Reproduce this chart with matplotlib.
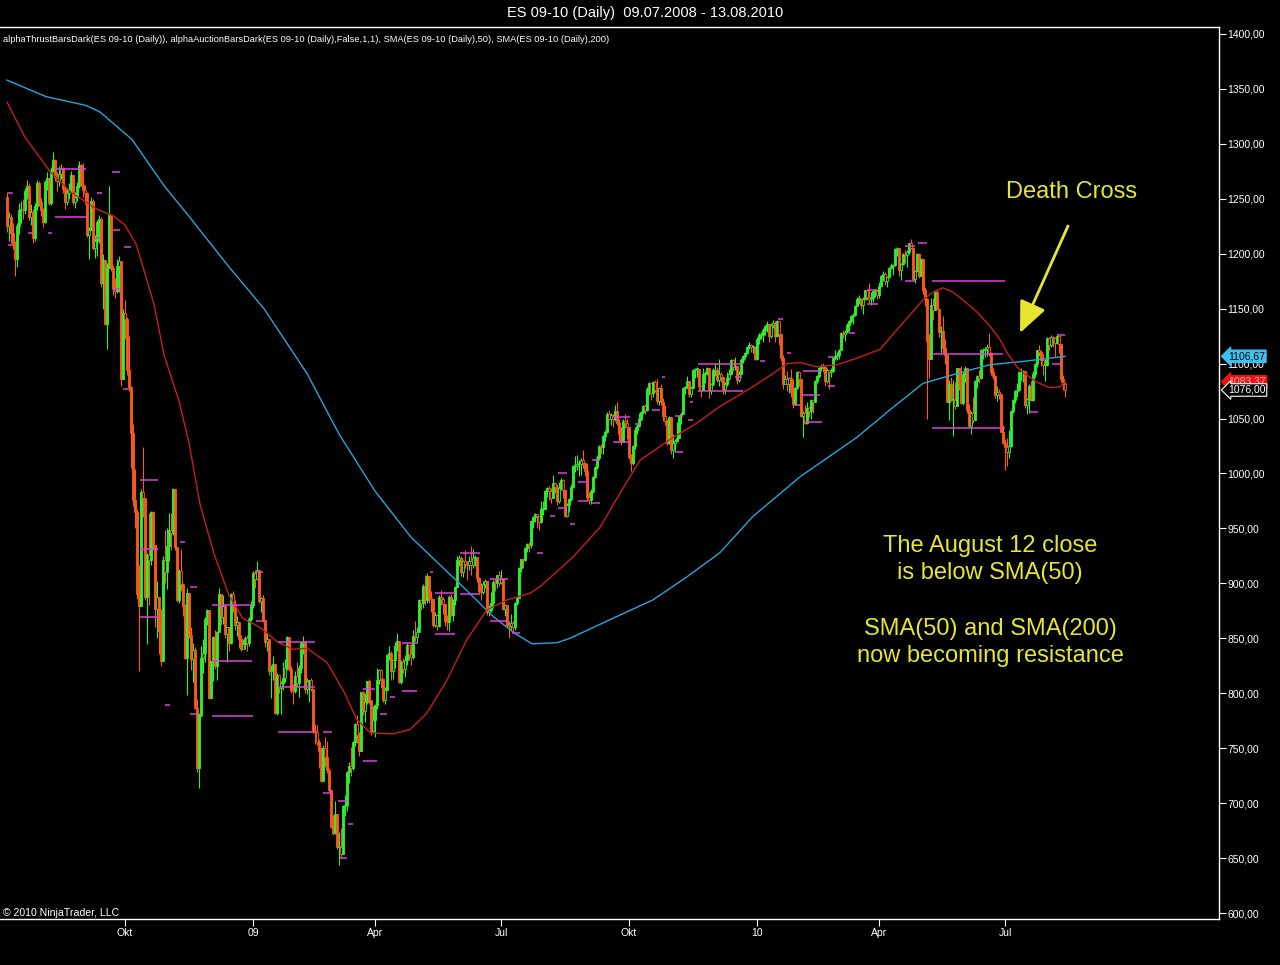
import numpy as np
import pandas as pd
import matplotlib
matplotlib.use('Agg')
import matplotlib.pyplot as plt
from matplotlib.ticker import FuncFormatter

plt.rcParams['font.family'] = ['Liberation Sans', 'DejaVu Sans']

W, H = 1280, 965

# ES 09-10 (Daily), back adjusted, 09.07.2008 - 13.08.2010
first_open = 1252
close = [
    # 2008 Jul
    1225, 1233, 1219, 1208, 1195, 1225, 1240, 1241, 1240, 1257, 1262, 1233, 1238, 1214, 1243, 1264, 1247,
    # Aug
    1240, 1229, 1265, 1269, 1246, 1276, 1285, 1270, 1266, 1273, 1278, 1259, 1247, 1255, 1258, 1272, 1247, 1252, 1262, 1281, 1263,
    # Sep
    1258, 1255, 1217, 1222, 1248, 1205, 1212, 1229, 1232, 1173, 1194, 1136, 1187, 1235, 1187, 1168, 1166, 1189, 1193, 1086, 1146,
    # Oct
    1141, 1094, 1079, 1037, 976, 965, 890, 879, 983, 978, 888, 926, 921, 965, 935, 877, 888, 857, 829, 921, 910, 934, 949,
    # Nov
    946, 986, 933, 885, 911, 899, 879, 832, 891, 853, 831, 839, 787, 732, 780, 832, 837, 868, 876,
    # Dec
    796, 829, 851, 825, 856, 890, 869, 879, 854, 860, 846, 890, 881, 862, 865, 849, 840, 845, 850, 846, 868, 880,
    # 2009 Jan
    909, 904, 912, 884, 887, 867, 847, 849, 820, 821, 827, 782, 817, 805, 809, 814, 823, 851, 822, 803,
    # Feb
    802, 816, 809, 823, 846, 847, 804, 811, 812, 804, 766, 765, 756, 747, 720, 750, 742, 730, 712,
    # Mar
    678, 673, 690, 660, 660, 654, 697, 698, 728, 734, 732, 756, 772, 762, 747, 801, 784, 792, 811, 794, 766, 776,
    # Apr
    789, 812, 821, 813, 794, 803, 835, 837, 820, 830, 843, 848, 810, 828, 822, 830, 844, 836, 833, 852, 851,
    # May
    856, 885, 882, 898, 885, 907, 887, 886, 862, 871, 861, 888, 886, 881, 866, 865, 888, 871, 885, 897,
    # Jun
    921, 923, 910, 920, 918, 917, 920, 917, 923, 924, 905, 893, 892, 899, 902, 874, 876, 882, 901, 900, 908, 900,
    # Jul
    904, 877, 880, 862, 861, 864, 860, 882, 887, 914, 922, 921, 932, 936, 935, 957, 960, 963, 961, 956, 968, 968,
    # Aug
    984, 987, 984, 978, 991, 988, 975, 987, 994, 985, 961, 971, 977, 988, 1007, 1007, 1009, 1009, 1012, 1010, 1002,
    # Sep
    979, 976, 984, 997, 1006, 1014, 1025, 1024, 1034, 1038, 1054, 1050, 1053, 1050, 1057, 1046, 1036, 1029, 1048, 1046, 1042,
    # Oct
    1015, 1010, 1025, 1040, 1043, 1050, 1056, 1061, 1058, 1077, 1082, 1073, 1083, 1076, 1066, 1078, 1065, 1052, 1048, 1028, 1051, 1021,
    # Nov
    1028, 1030, 1032, 1052, 1054, 1078, 1078, 1084, 1072, 1078, 1094, 1095, 1095, 1080, 1076, 1091, 1091, 1096, 1076, 1081,
    # Dec
    1094, 1094, 1085, 1091, 1088, 1077, 1081, 1087, 1091, 1103, 1097, 1098, 1085, 1091, 1103, 1107, 1110, 1115, 1117, 1115, 1115, 1104,
    # 2010 Jan
    1122, 1126, 1126, 1131, 1134, 1136, 1125, 1135, 1137, 1125, 1139, 1127, 1105, 1081, 1086, 1081, 1087, 1074, 1063,
    # Feb
    1078, 1092, 1086, 1052, 1055, 1046, 1060, 1057, 1067, 1065, 1084, 1089, 1096, 1098, 1097, 1084, 1094, 1092, 1093,
    # Mar
    1105, 1107, 1108, 1112, 1128, 1127, 1129, 1135, 1139, 1143, 1144, 1152, 1159, 1159, 1153, 1159, 1167, 1161, 1159, 1160, 1166, 1166, 1162,
    # Apr
    1171, 1180, 1182, 1175, 1179, 1187, 1189, 1190, 1204, 1205, 1185, 1191, 1200, 1199, 1202, 1210, 1205, 1177, 1184, 1200, 1180,
    # May
    1195, 1167, 1159, 1121, 1104, 1153, 1149, 1165, 1150, 1129, 1130, 1114, 1108, 1065, 1081, 1067, 1067, 1061, 1096, 1082,
    # Jun
    1064, 1091, 1096, 1058, 1043, 1055, 1049, 1084, 1089, 1087, 1112, 1112, 1113, 1115, 1110, 1092, 1089, 1071, 1074, 1072, 1038, 1028,
    # Jul
    1024, 1020, 1025, 1057, 1067, 1075, 1076, 1092, 1092, 1093, 1062, 1068, 1080, 1067, 1091, 1100, 1112, 1111, 1103, 1099, 1099,
    # Aug
    1123, 1117, 1124, 1123, 1119, 1125, 1118, 1086, 1081, 1076,
]
high = [
    1256, 1238, 1236, 1228, 1212, 1228, 1246, 1248, 1250, 1260, 1267, 1264, 1245, 1241, 1246, 1267, 1266,
    1251, 1242, 1267, 1274, 1267, 1279, 1293, 1286, 1274, 1280, 1282, 1279, 1262, 1260, 1264, 1275, 1272, 1256, 1265, 1284, 1282,
    1283, 1263, 1256, 1224, 1252, 1250, 1217, 1231, 1235, 1233, 1200, 1194, 1192, 1262, 1235, 1190, 1178, 1195, 1198, 1193, 1150,
    1158, 1142, 1125, 1080, 1045, 1004, 968, 917, 986, 1024, 978, 928, 964, 966, 966, 935, 902, 888, 877, 925, 949, 950, 964,
    964, 987, 985, 933, 913, 931, 900, 881, 896, 891, 860, 846, 842, 795, 782, 843, 849, 869, 877,
    876, 829, 852, 858, 857, 896, 890, 889, 880, 860, 860, 891, 893, 885, 870, 866, 853, 849, 852, 853, 869, 884,
    911, 912, 920, 910, 888, 889, 867, 854, 848, 826, 834, 826, 818, 817, 811, 828, 831, 852, 850, 825,
    808, 820, 828, 826, 848, 852, 847, 814, 812, 814, 803, 772, 771, 758, 751, 753, 760, 757, 732,
    712, 689, 702, 690, 674, 677, 698, 707, 729, 737, 751, 757, 773, 780, 765, 801, 802, 800, 811, 813, 794, 788,
    790, 823, 822, 822, 813, 806, 836, 843, 838, 830, 847, 855, 848, 830, 832, 835, 847, 844, 845, 858, 866,
    860, 886, 886, 899, 908, 909, 906, 893, 886, 874, 872, 889, 894, 888, 880, 871, 889, 890, 886, 898,
    925, 926, 925, 921, 930, 920, 925, 934, 931, 926, 924, 906, 900, 902, 904, 902, 880, 892, 903, 904, 908, 911,
    912, 904, 881, 880, 866, 872, 866, 883, 888, 915, 922, 923, 933, 937, 938, 957, 961, 964, 963, 961, 975, 975,
    985, 988, 989, 987, 999, 992, 990, 992, 996, 995, 985, 973, 978, 990, 1008, 1016, 1017, 1012, 1014, 1021, 1010,
    1010, 983, 986, 998, 1007, 1017, 1026, 1027, 1035, 1040, 1056, 1058, 1055, 1054, 1062, 1065, 1050, 1042, 1050, 1054, 1050,
    1042, 1018, 1026, 1042, 1045, 1055, 1057, 1062, 1063, 1079, 1083, 1082, 1084, 1085, 1086, 1079, 1081, 1069, 1062, 1050, 1052, 1051,
    1036, 1031, 1047, 1053, 1056, 1079, 1080, 1089, 1084, 1080, 1095, 1096, 1097, 1094, 1080, 1096, 1093, 1097, 1096, 1082,
    1096, 1101, 1097, 1104, 1092, 1088, 1083, 1092, 1095, 1104, 1104, 1106, 1098, 1093, 1105, 1108, 1111, 1116, 1120, 1118, 1117, 1116,
    1124, 1128, 1129, 1132, 1135, 1139, 1136, 1137, 1140, 1139, 1140, 1139, 1127, 1108, 1090, 1093, 1088, 1095, 1086,
    1079, 1093, 1093, 1086, 1057, 1062, 1065, 1061, 1068, 1067, 1085, 1090, 1097, 1100, 1101, 1098, 1096, 1094, 1096,
    1106, 1112, 1111, 1113, 1129, 1131, 1131, 1137, 1140, 1144, 1146, 1153, 1161, 1162, 1160, 1161, 1167, 1167, 1173, 1165, 1167, 1168, 1168,
    1174, 1181, 1184, 1183, 1180, 1188, 1192, 1191, 1205, 1206, 1205, 1192, 1201, 1203, 1203, 1210, 1213, 1206, 1185, 1201, 1201,
    1196, 1195, 1170, 1160, 1127, 1160, 1160, 1166, 1167, 1150, 1134, 1143, 1122, 1099, 1085, 1088, 1085, 1083, 1096, 1096,
    1098, 1092, 1098, 1096, 1063, 1057, 1070, 1085, 1090, 1094, 1113, 1114, 1115, 1118, 1128, 1111, 1096, 1090, 1080, 1077, 1072, 1044,
    1031, 1032, 1040, 1058, 1068, 1076, 1082, 1093, 1096, 1094, 1093, 1069, 1081, 1084, 1093, 1101, 1112, 1117, 1112, 1109, 1104,
    1124, 1124, 1126, 1125, 1124, 1127, 1125, 1116, 1090, 1083,
]
low = [
    1220, 1212, 1210, 1204, 1180, 1188, 1218, 1228, 1232, 1236, 1250, 1231, 1226, 1210, 1212, 1240, 1243,
    1234, 1224, 1228, 1258, 1244, 1244, 1274, 1266, 1257, 1262, 1268, 1255, 1241, 1244, 1250, 1256, 1244, 1242, 1248, 1260, 1262,
    1252, 1245, 1215, 1195, 1222, 1203, 1196, 1198, 1210, 1170, 1150, 1135, 1113, 1195, 1184, 1162, 1160, 1164, 1165, 1080, 1086,
    1122, 1090, 1075, 1005, 970, 950, 886, 820, 880, 960, 885, 845, 880, 917, 930, 860, 850, 836, 825, 830, 900, 895, 920,
    930, 944, 930, 883, 882, 893, 870, 831, 798, 850, 821, 810, 786, 728, 714, 778, 818, 828, 862,
    795, 797, 811, 822, 812, 856, 862, 863, 850, 828, 838, 845, 874, 858, 852, 841, 838, 840, 840, 838, 843, 866,
    878, 896, 903, 882, 874, 865, 842, 838, 817, 796, 812, 781, 780, 800, 781, 803, 810, 821, 820, 800,
    790, 800, 806, 797, 818, 836, 800, 799, 792, 802, 764, 754, 753, 732, 719, 721, 733, 727, 710,
    677, 671, 672, 658, 644, 651, 655, 688, 693, 718, 725, 730, 752, 755, 743, 750, 780, 774, 790, 790, 762, 764,
    760, 786, 808, 805, 792, 790, 803, 830, 812, 813, 823, 838, 809, 808, 818, 815, 826, 830, 826, 831, 848,
    846, 856, 876, 878, 880, 882, 882, 874, 860, 860, 858, 860, 880, 872, 861, 858, 857, 870, 866, 880,
    897, 916, 907, 906, 914, 903, 912, 908, 914, 916, 901, 890, 885, 890, 896, 871, 870, 874, 878, 893, 896, 898,
    899, 876, 870, 860, 850, 858, 856, 858, 880, 887, 910, 914, 920, 929, 929, 932, 950, 956, 950, 949, 955, 962,
    967, 979, 976, 973, 978, 982, 971, 973, 985, 978, 960, 960, 965, 975, 987, 1001, 1003, 998, 999, 1005, 998,
    976, 972, 972, 982, 996, 1004, 1012, 1018, 1018, 1030, 1037, 1049, 1044, 1042, 1048, 1044, 1030, 1026, 1029, 1041, 1031,
    1013, 1002, 1008, 1022, 1036, 1042, 1048, 1054, 1054, 1057, 1071, 1067, 1070, 1074, 1063, 1062, 1062, 1048, 1044, 1026, 1027, 1018,
    1014, 1020, 1029, 1032, 1045, 1054, 1072, 1078, 1070, 1070, 1078, 1087, 1088, 1075, 1070, 1076, 1082, 1090, 1069, 1072,
    1080, 1089, 1083, 1080, 1083, 1072, 1072, 1080, 1085, 1090, 1093, 1094, 1081, 1083, 1090, 1101, 1104, 1109, 1113, 1111, 1110, 1103,
    1103, 1118, 1122, 1120, 1126, 1129, 1120, 1123, 1132, 1120, 1124, 1117, 1102, 1077, 1081, 1075, 1073, 1070, 1060,
    1062, 1077, 1080, 1051, 1033, 1045, 1045, 1051, 1050, 1055, 1065, 1082, 1087, 1093, 1092, 1080, 1082, 1077, 1088,
    1092, 1103, 1103, 1104, 1112, 1123, 1121, 1128, 1130, 1137, 1136, 1143, 1152, 1154, 1150, 1145, 1158, 1158, 1155, 1153, 1156, 1161, 1159,
    1160, 1170, 1175, 1172, 1170, 1178, 1186, 1181, 1189, 1198, 1180, 1176, 1190, 1192, 1188, 1200, 1204, 1176, 1173, 1184, 1178,
    1180, 1163, 1152, 1050, 1087, 1104, 1140, 1149, 1150, 1124, 1110, 1110, 1100, 1065, 1049, 1066, 1034, 1059, 1062, 1076,
    1063, 1062, 1083, 1055, 1042, 1036, 1046, 1049, 1078, 1082, 1086, 1104, 1106, 1107, 1107, 1090, 1086, 1069, 1066, 1068, 1038, 1027,
    1003, 1007, 1014, 1024, 1055, 1064, 1070, 1075, 1084, 1083, 1060, 1054, 1055, 1066, 1066, 1088, 1097, 1107, 1098, 1090, 1084,
    1098, 1112, 1115, 1115, 1106, 1118, 1110, 1083, 1076, 1070,
]

holidays = ['2008-09-01', '2008-11-27', '2008-12-25', '2009-01-01', '2009-01-19', '2009-02-16',
            '2009-04-10', '2009-05-25', '2009-07-03', '2009-09-07', '2009-11-26', '2009-12-25',
            '2010-01-01', '2010-01-18', '2010-02-15', '2010-04-02', '2010-05-31', '2010-07-05']

month_ticks = ['2008-10-01', '2009-01-01', '2009-04-01', '2009-07-01',
               '2009-10-01', '2010-01-01', '2010-04-01', '2010-07-01']
month_labels = ['Okt', '09', 'Apr', 'Jul', 'Okt', '10', 'Apr', 'Jul']

# moving averages (bar index, price)
sma50_idx = [0, 9, 21.5, 32, 44.5, 53.5, 59, 64.5, 68, 73.5, 78.5, 86, 91, 96.5, 103.5, 111, 118, 126.5,
             135, 143, 150, 160, 168, 175, 181.5, 193, 201.5, 210, 220, 230, 240, 250, 261.5, 266.5,
             283, 296.5, 306.5, 316.5, 331.5, 345, 356.5, 373, 383, 390, 396.5, 405, 415, 425, 436.5,
             446.5, 458, 463, 468, 473, 478, 485, 491.5, 496.5, 500, 505, 508, 515, 521.5, 526.5, 529]
sma50_val = [1338, 1306, 1275, 1256, 1241, 1234, 1226, 1209, 1188, 1154, 1108, 1066, 1028, 972, 927, 889, 868, 860,
             847, 840, 841, 828, 803, 776, 764, 763, 767, 782, 812, 849, 876, 885, 891, 897,
             924, 951, 982, 1012, 1031, 1046, 1061, 1079, 1091, 1100, 1101, 1097, 1099, 1105, 1113,
             1134, 1158, 1165, 1169, 1165, 1158, 1147, 1134, 1122, 1110, 1097, 1092, 1083, 1078, 1079, 1083.37]
sma200_idx = [0, 19.5, 39.5, 46.5, 62.5, 78.5, 91, 111, 128.5, 150, 166, 184, 202, 228.5, 243, 253.5,
              262.5, 275, 281.5, 301.5, 323, 340, 356.5, 373, 396.5, 425, 441.5, 458, 475, 491.5, 508, 529]
sma200_val = [1358, 1343, 1335, 1329, 1304, 1262, 1234, 1188, 1150, 1091, 1036, 984, 942, 896, 870, 855,
              845, 846, 850, 867, 885, 906, 928, 961, 997, 1033, 1058, 1082, 1091, 1099, 1102, 1106.67]

# auction bar levels (from bar, to bar, price)
auction_from = [24, 52.5, 0.5, 24, 45, 10.5, 20.5, 0.5, 53, 58.5, 44, 53, 58, 66.5, 66.5, 66.5, 86.5, 91.5,
                102.5, 102.5, 102.5, 79, 91.5, 124.5, 124.5, 135.5, 135.5, 135.5, 158, 158, 165.5, 170.5,
                166.5, 178, 178, 186.5, 191.5, 197.5, 197.5, 211.5, 214, 214, 226.5, 226.5, 241.5, 241.5,
                252.5, 265, 271.5, 275.5, 275.5, 281.5, 285.5, 285.5, 292.5, 292.5, 303, 303, 314, 322.5,
                327.5, 334, 334, 340.5, 341.5, 345.5, 345.5, 364, 376.5, 390, 385.5, 393, 398, 398, 399,
                410.5, 410.5, 421, 430, 430, 449, 455.5, 449, 462.5, 462.5, 462.5, 511, 522.5, 525]
auction_to = [39.5, 56.5, 3, 40, 47.5, 13, 22.5, 2.5, 56.5, 62, 46.5, 56.5, 61.5, 75.5, 75.5, 75.5, 89, 95,
              122.5, 122.5, 123, 81.5, 95, 128, 128, 154, 154, 154, 162.5, 162.5, 170, 173,
              170, 185, 184, 190, 194, 205, 205, 213, 224, 224, 236.5, 236.5, 250.5, 250.5,
              256.5, 268, 274, 280, 280, 284, 290.5, 290.5, 296.5, 296.5, 311.5, 311.5, 316.5, 326.5,
              329, 338, 338, 343, 343, 368, 368, 367.5, 379, 392, 388, 396.5, 406.5, 406.5, 407.5,
              414, 414, 424, 435, 435.5, 454, 460, 454, 499, 498, 499, 515.5, 528, 529]
auction_price = [1277, 1274, 1255, 1233, 1255, 1219, 1219, 1208, 1222, 1206, 1214, 1168, 1077, 994, 931, 869, 938, 897,
                 880, 829, 779, 789, 781, 910, 866, 847, 806, 765, 765, 709, 702, 681,
                 650, 738, 804, 781, 797, 846, 802, 910, 891, 854, 928, 890, 904, 866,
                 855, 928, 961, 1000, 969, 954, 992, 975, 1012, 973, 1051, 1029, 1045, 1058,
                 1088, 1052, 1020, 1049, 1065, 1100, 1075, 1088, 1102, 1110, 1141, 1062, 1093, 1071, 1047,
                 1106, 1080, 1128, 1167, 1154, 1207, 1210, 1175, 1175, 1109, 1041, 1056, 1100, 1126]

GREEN = '#2ef22e'
ORANGE = '#ff5a1a'
MAGENTA = '#e040e0'
YELLOW = '#e6e632'


def fig_xy(x, y):
    return x / W, 1 - y / H


fig = plt.figure(figsize=(W / 100, H / 100), dpi=100, facecolor='black')
ax = fig.add_axes([0, (H - 919) / H, 1219 / W, (919 - 27) / H])
ax.set_facecolor('black')

n = len(close)
idx = np.arange(n)
c = np.array(close, dtype=float)
o = np.r_[first_open, c[:-1]]
hi = np.maximum(np.array(high, dtype=float), np.maximum(o, c))
lo = np.minimum(np.array(low, dtype=float), np.minimum(o, c))
prev_hi = np.r_[hi[0], hi[:-1]]
prev_lo = np.r_[lo[0], lo[:-1]]

up = c >= o
col = np.where(up, GREEN, ORANGE)
thrust = (c > prev_hi) | (c < prev_lo) | (np.abs(c - o) > 12)
face = [cl if t else 'black' for cl, t in zip(col, thrust)]

ax.vlines(idx, lo, hi, colors=col, linewidth=0.8, zorder=2)
ax.bar(idx, np.maximum(np.abs(c - o), 0.6), bottom=np.minimum(c, o), width=1.3,
       color=face, edgecolor=col, linewidth=0.6, zorder=2)

ax.hlines(auction_price, auction_from, auction_to, colors=MAGENTA, linewidth=1.1, zorder=4)

ax.plot(sma200_idx, sma200_val, color='#2aa4dc', linewidth=1.0, zorder=3)
ax.plot(sma50_idx, sma50_val, color='#c81e1e', linewidth=1.0, zorder=3)

ax.set_xlim(-3.5, 606)
ax.set_ylim(600 - 6 / 1.1, 1400 + 7 / 1.1)

# axes
for s in ['top', 'bottom', 'right']:
    ax.spines[s].set_color('white')
    ax.spines[s].set_linewidth(1.0)
ax.spines['left'].set_visible(False)

ax.yaxis.tick_right()
ax.set_yticks(np.arange(600, 1401, 50))
ax.yaxis.set_major_formatter(FuncFormatter(lambda v, p: '{:.2f}'.format(v).replace('.', ',')))
ax.tick_params(axis='y', colors='white', length=4.8, width=0.8, pad=1, labelsize=7.5)

dates = pd.bdate_range('2008-07-09', '2010-08-13', freq='C', holidays=holidays)[:n]
tick_pos = [int(np.searchsorted(dates, pd.Timestamp(d))) for d in month_ticks]
ax.set_xticks(tick_pos)
ax.set_xticklabels(month_labels)
ax.tick_params(axis='x', colors='white', length=5, width=0.8, pad=1.5, labelsize=7.5)


# price markers at the right edge
def tag(price, text, fc, tc, ec, z):
    ax.text(1228 / 1219, price, text, transform=ax.get_yaxis_transform(), ha='left', va='center',
            fontsize=7.5, color=tc, zorder=z, clip_on=False,
            bbox=dict(boxstyle='larrow,pad=0.12', fc=fc, ec=ec, lw=0.8))


tag(sma200_val[-1], '1106,67', '#3ec1f0', 'black', '#3ec1f0', 10)
tag(sma50_val[-1], '1083,37', '#ee1111', '#ffb0b0', '#ee1111', 11)
tag(close[-1], '1076,00', 'black', 'white', 'white', 12)

# texts
fig.text(*fig_xy(645, 13), 'ES 09-10 (Daily)  09.07.2008 - 13.08.2010', color='white',
         ha='center', va='center', fontsize=10.5)
fig.text(*fig_xy(3, 40), 'alphaThrustBarsDark(ES 09-10 (Daily)), alphaAuctionBarsDark(ES 09-10 (Daily),'
         'False,1,1), SMA(ES 09-10 (Daily),50), SMA(ES 09-10 (Daily),200)', color='white',
         ha='left', va='center', fontsize=6.7)
fig.text(*fig_xy(3, 913), '\u00a9 2010 NinjaTrader, LLC', color='white', ha='left', va='center',
         fontsize=7.6)

fig.text(*fig_xy(1072, 192), 'Death Cross', color=YELLOW, ha='center', va='center', fontsize=17)
for txt, yy in [('The August 12 close', 546), ('is below SMA(50)', 573),
                ('SMA(50) and SMA(200)', 629), ('now becoming resistance', 656)]:
    fig.text(*fig_xy(990, yy), txt, color=YELLOW, ha='center', va='center', fontsize=17)

ax.annotate('', xy=fig_xy(1020, 333), xytext=fig_xy(1068, 226), xycoords='figure fraction',
            textcoords='figure fraction',
            arrowprops=dict(arrowstyle='-|>,head_length=1.6,head_width=0.7', color=YELLOW,
                            lw=2, mutation_scale=12, shrinkA=0, shrinkB=0))

fig.savefig('out.png', dpi=100, facecolor='black')
